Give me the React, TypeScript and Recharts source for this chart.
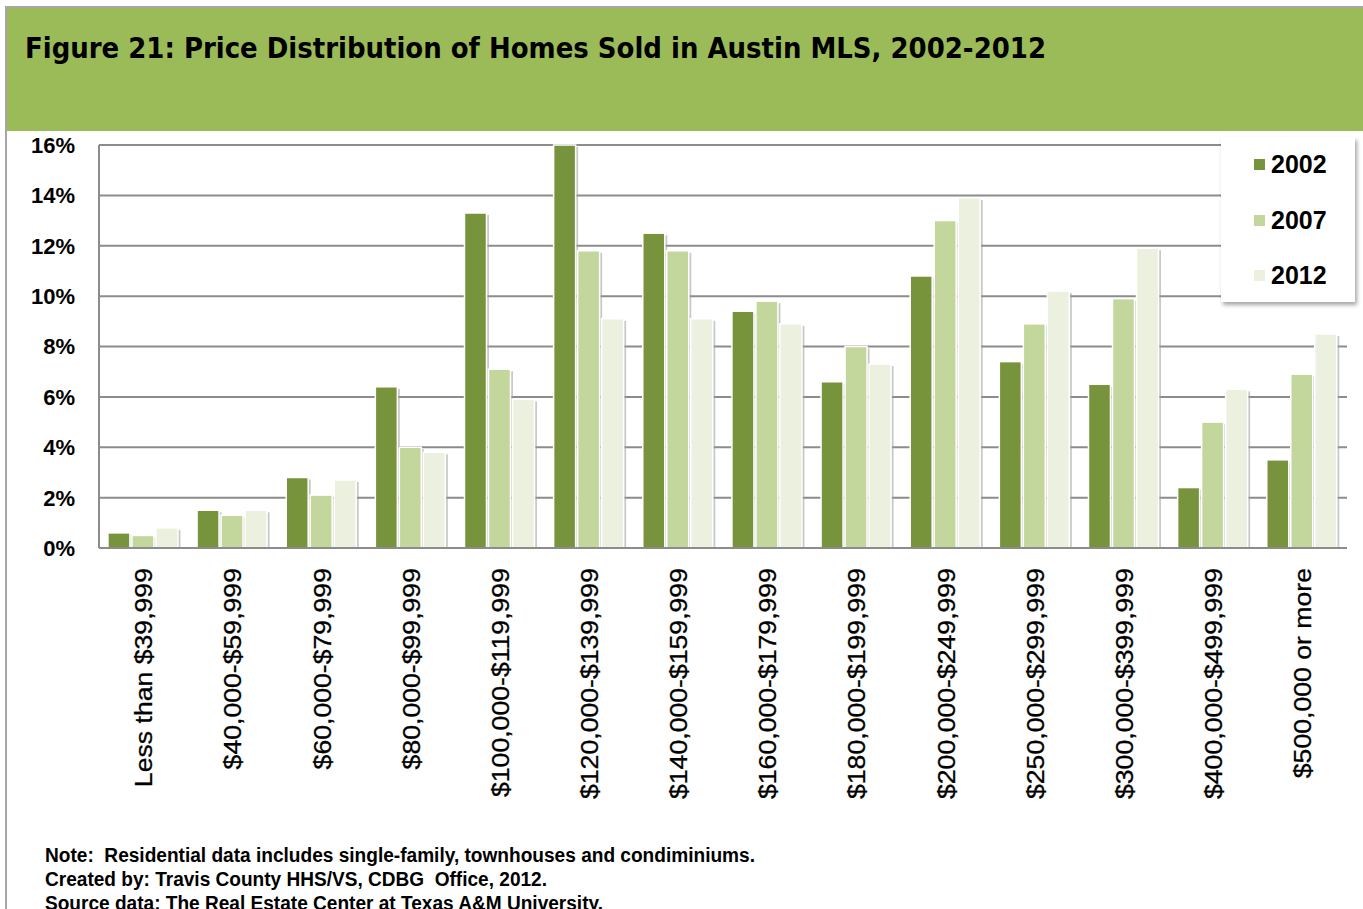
import React from 'react';
import { BarChart, Bar, XAxis, YAxis, CartesianGrid } from 'recharts';

const categories = [
  'Less than $39,999', '$40,000-$59,999', '$60,000-$79,999', '$80,000-$99,999',
  '$100,000-$119,999', '$120,000-$139,999', '$140,000-$159,999', '$160,000-$179,999',
  '$180,000-$199,999', '$200,000-$249,999', '$250,000-$299,999', '$300,000-$399,999',
  '$400,000-$499,999', '$500,000 or more',
];
const y2002 = [0.6, 1.5, 2.8, 6.4, 13.3, 16.0, 12.5, 9.4, 6.6, 10.8, 7.4, 6.5, 2.4, 3.5];
const y2007 = [0.5, 1.3, 2.1, 4.0, 7.1, 11.8, 11.8, 9.8, 8.0, 13.0, 8.9, 9.9, 5.0, 6.9];
const y2012 = [0.8, 1.5, 2.7, 3.8, 5.9, 9.1, 9.1, 8.9, 7.3, 13.9, 10.2, 11.9, 6.3, 8.5];
const yTicks = [0, 2, 4, 6, 8, 10, 12, 14, 16];
const seriesNames = ['2002', '2007', '2012'];
const seriesColors = ['#77933C', '#C3D69B', '#EBF1DE'];
const notes = [
  'Note:\u00a0 Residential data includes single-family, townhouses and condiminiums.',
  'Created by: Travis County HHS/VS, CDBG\u00a0 Office, 2012.',
  'Source data: The Real Estate Center at Texas A&M University.',
];
const noteWidths = [710, 502, 558];

const data = categories.map((c, i) => ({ cat: c, s2002: y2002[i], s2007: y2007[i], s2012: y2012[i] }));

const FONT = '"Liberation Sans", Arial, sans-serif';

const BarShape = (props: any) => {
  const { x, y, width, height, fill } = props;
  if (!height || height <= 0) return null;
  return (
    <g>
      <rect x={x + 2.5} y={y + 2} width={width} height={height - 1} fill="#9a9a9a" opacity={0.55} />
      <rect x={x} y={y} width={width} height={height} fill={fill} stroke="#ffffff" strokeWidth={1.5} />
    </g>
  );
};

const XTick = (props: any) => {
  const { x, y, payload } = props;
  return (
    <g transform={`translate(${x},${y + 12}) rotate(-90) scale(1.11,1)`}>
      <text x={0} y={0} dy="0.36em" textAnchor="end" fontFamily={FONT} fontWeight="normal" fontSize={24} fill="#000" stroke="#000" strokeWidth={0.3}>
        {payload.value}
      </text>
    </g>
  );
};

const YTick = (props: any) => {
  const { x, y, payload } = props;
  return (
    <text x={x} y={y} dy="0.36em" textAnchor="end" fontFamily={FONT} fontWeight="bold" fontSize={22} fill="#000">
      {`${payload.value}%`}
    </text>
  );
};

const LegendBox = () => (
  <div
    style={{
      position: 'absolute',
      left: 1221,
      top: 137,
      width: 134,
      height: 165,
      background: '#fff',
      boxShadow: '2px 3px 4px rgba(0,0,0,0.35)',
      boxSizing: 'border-box',
    }}
  >
    {seriesNames.map((n, i) => (
      <div key={n} style={{ display: 'flex', alignItems: 'center', height: 55.5, paddingLeft: 33 }}>
        <div style={{ width: 11, height: 11, background: seriesColors[i], marginRight: 6 }} />
        <span style={{ fontFamily: FONT, fontWeight: 'bold', fontSize: 25, color: '#000', lineHeight: 1 }}>{n}</span>
      </div>
    ))}
  </div>
);

export default function App() {
  return (
    <div style={{ position: 'absolute', left: 0, top: 0, width: 1363, height: 909, background: '#fff', overflow: 'hidden' }}>
      <div style={{ position: 'absolute', left: 5, top: 6, width: 1358, height: 903, borderTop: '2px solid #a6a6a6', borderLeft: '2px solid #a6a6a6' }} />
      <div style={{ position: 'absolute', left: 7, top: 8, width: 1356, height: 123, background: '#9BBB59' }} />
      <svg style={{ position: 'absolute', left: 0, top: 0 }} width={1363} height={140}>
        <text x={25} y={58} textLength={1021} lengthAdjust="spacingAndGlyphs" fontFamily='"DejaVu Sans", sans-serif' fontWeight="bold" fontSize={29} fill="#000">
          Figure 21: Price Distribution of Homes Sold in Austin MLS, 2002-2012
        </text>
      </svg>
      <div style={{ position: 'absolute', left: 0, top: 0 }}>
        <BarChart
          width={1363}
          height={830}
          data={data}
          margin={{ top: 145, right: 16, bottom: 29, left: 0 }}
          barCategoryGap="10%"
          barGap={2}
        >
          <CartesianGrid vertical={false} stroke="#8c8c8c" strokeWidth={2} />
          <XAxis
            dataKey="cat"
            interval={0}
            height={253}
            tick={<XTick />}
            tickLine={false}
            axisLine={{ stroke: '#8c8c8c', strokeWidth: 2 }}
          />
          <YAxis
            domain={[0, 16]}
            ticks={yTicks}
            width={99}
            tickSize={0}
            tickMargin={24}
            tick={<YTick />}
            axisLine={{ stroke: '#8c8c8c', strokeWidth: 2 }}
            interval={0}
          />
          <Bar dataKey="s2002" name="2002" fill={seriesColors[0]} shape={<BarShape />} isAnimationActive={false} />
          <Bar dataKey="s2007" name="2007" fill={seriesColors[1]} shape={<BarShape />} isAnimationActive={false} />
          <Bar dataKey="s2012" name="2012" fill={seriesColors[2]} shape={<BarShape />} isAnimationActive={false} />
        </BarChart>
      </div>
      <LegendBox />
      <svg style={{ position: 'absolute', left: 0, top: 830 }} width={1363} height={79}>
        {notes.map((t, i) => (
          <text key={i} x={45} y={32 + i * 24} textLength={noteWidths[i]} lengthAdjust="spacingAndGlyphs" fontFamily={FONT} fontWeight="bold" fontSize={19.5} fill="#000">
            {t}
          </text>
        ))}
      </svg>
    </div>
  );
}
